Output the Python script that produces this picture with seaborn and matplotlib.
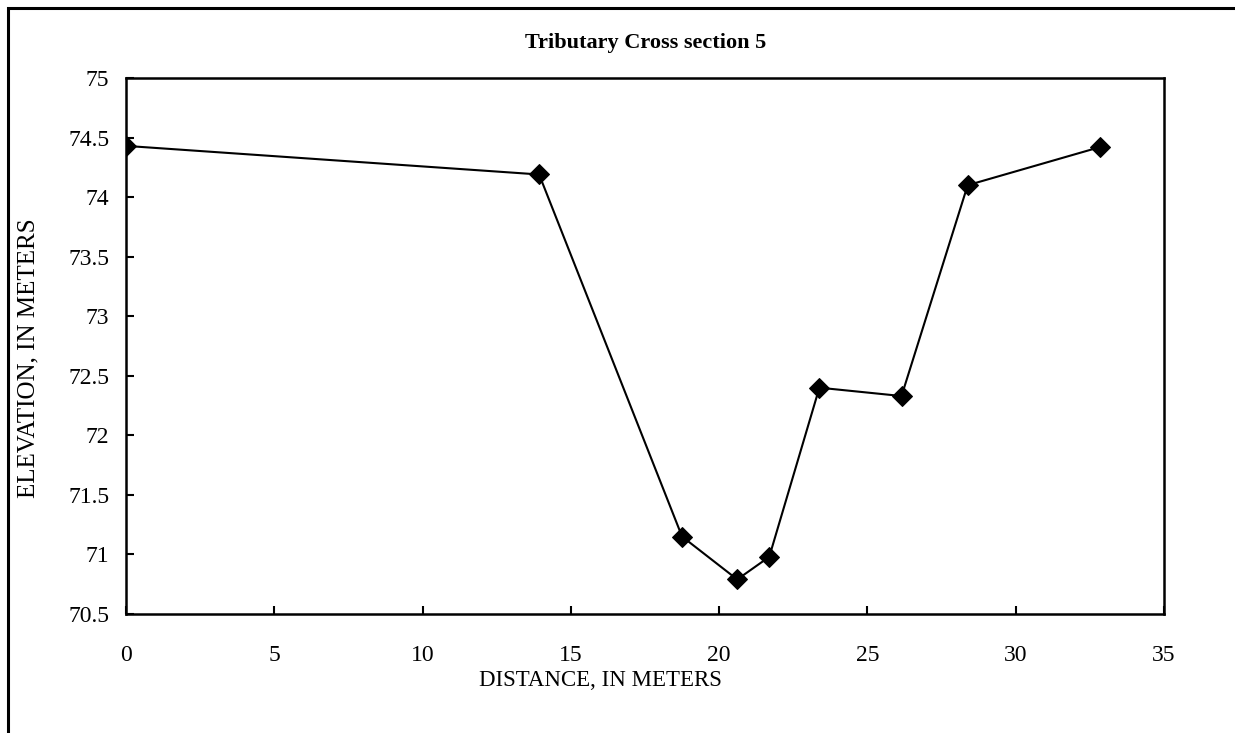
import matplotlib
matplotlib.use("Agg")
import matplotlib.pyplot as plt
from matplotlib.patches import Rectangle
import seaborn as sns
import pandas as pd

# Surveyed cross-section points
distance_m = [0.0, 13.93, 18.75, 20.61, 21.69, 23.38, 26.15, 28.38, 32.84]
elevation_m = [74.43, 74.19, 71.15, 70.79, 70.98, 72.40, 72.33, 74.10, 74.42]
x_ticks = [0, 5, 10, 15, 20, 25, 30, 35]
y_ticks = [70.5, 71, 71.5, 72, 72.5, 73, 73.5, 74, 74.5, 75]

sns.set_style("white")
plt.rcParams["font.family"] = ["Liberation Serif", "DejaVu Serif"]

df = pd.DataFrame({"distance": distance_m, "elevation": elevation_m})

fig = plt.figure(figsize=(12.35, 7.33), dpi=100)
ax = fig.add_axes([126 / 1235, 1 - 614 / 733, 1038 / 1235, 536 / 733])

sns.lineplot(data=df, x="distance", y="elevation", ax=ax, color="black",
             linewidth=1.5, marker="D", markersize=10, markeredgecolor="black",
             markerfacecolor="black", sort=False)

ax.set_xlim(0, 35)
ax.set_ylim(70.5, 75)
ax.set_xticks(x_ticks)
ax.set_xticklabels([f"{v:g}" for v in x_ticks])
ax.set_yticks(y_ticks)
ax.set_yticklabels([f"{v:g}" for v in y_ticks])

for s in ax.spines.values():
    s.set_color("black")
    s.set_linewidth(1.8)

ax.tick_params(axis="both", direction="in", length=6, width=1.5, colors="black",
               labelsize=17, bottom=True, left=True)
ax.tick_params(axis="x", pad=22)
ax.tick_params(axis="y", pad=12)

ax.set_xlabel("DISTANCE, IN METERS", fontsize=16.5, color="black")
ax.xaxis.set_label_coords(474 / 1038, -56 / 536)
ax.set_ylabel("ELEVATION, IN METERS", fontsize=18, color="black")
ax.yaxis.set_label_coords(-98 / 1038, 256 / 536)
ax.yaxis.label.set_va("center")

fig.text(646 / 1235, 1 - 43 / 733, "Tributary Cross section 5", ha="center",
         va="center", fontsize=16, fontweight="bold", color="black")

# Outer chart frame
fig.patches.append(Rectangle((8 / 1235, -0.05), 1.1, 1 - 8 / 733 + 0.05,
                             transform=fig.transFigure, fill=False,
                             edgecolor="black", linewidth=2.2))

fig.savefig("out.png", dpi=100)
